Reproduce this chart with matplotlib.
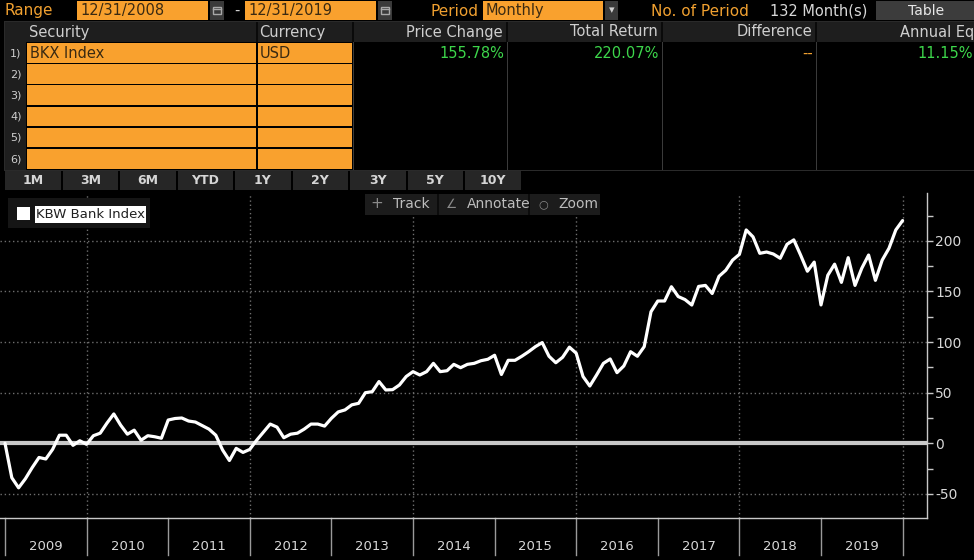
import matplotlib
matplotlib.use('Agg')
import matplotlib.pyplot as plt
from matplotlib.patches import Rectangle
import matplotlib.transforms as mtransforms

# ---------------- data ----------------
years = ['2009', '2010', '2011', '2012', '2013', '2014', '2015', '2016', '2017', '2018', '2019']
months = list(range(133))  # month-end points 12/2008 .. 12/2019
bkx_total_return = [
    0, -34, -44, -35, -24, -14, -15.5, -6, 8, 8, -2, 2.5,
    -1, 7.5, 10, 20, 29, 18, 9, 13, 3, 7.5, 6.5, 5,
    23, 24.5, 25, 22, 21, 17.5, 14, 8, -6.6, -17, -5, -9,
    -6, 3, 11, 19, 16, 5.5, 9, 10, 14, 19, 19, 17,
    24.7, 31, 33, 38, 39.5, 50, 51, 61, 52.7, 53, 57.6, 66,
    70.8, 67.5, 70.8, 79, 70.8, 71.7, 78, 74.7, 78, 79, 81.6, 83,
    87, 68, 82, 82, 86, 90.5, 95.5, 99.5, 86, 79.6, 85, 95,
    89, 66, 56.6, 67.5, 79, 83.3, 69.8, 76.4, 90.5, 86, 95.5, 130,
    140.6, 140.6, 154.7, 145, 142, 136.6, 155, 156, 148, 165, 171, 181,
    186.7, 210.8, 204, 187.7, 189, 187, 182.8, 196.6, 201, 186, 170, 179,
    136.7, 166, 177, 159, 183.4, 156, 173, 186, 161, 181, 192.7, 210.8,
    220.07,
]
y_major = [-50, 0, 50, 100, 150, 200]
y_minor = [-25, 25, 75, 125, 175, 225]
series_name = 'KBW Bank Index'

securities = ['BKX Index']
currencies = ['USD']
price_change = ['155.78%']
total_return = ['220.07%']
difference = ['--']
annual_eq = ['11.15%']
period_buttons = ['1M', '3M', '6M', 'YTD', '1Y', '2Y', '3Y', '5Y', '10Y']

# ---------------- style ----------------
ORANGE = '#F9A12E'
ORANGE_TXT = '#F0A030'
GREEN = '#3DD64B'
GRAY_TXT = '#cfcfcf'
DARK_TXT = '#3a2a12'
plt.rcParams['font.family'] = ['DejaVu Sans']

W, H = 974, 560
fig = plt.figure(figsize=(W / 100, H / 100), dpi=100, facecolor='black')

# ---------------- chart ----------------
ax_top, ax_bot, ax_right = 193, 518, 927
ax = fig.add_axes([0, (H - ax_bot) / H, ax_right / W, (ax_bot - ax_top) / H], zorder=1)
ax.set_facecolor('none')
px_per_month = 6.8
x0_px = 5
ax.set_xlim(-x0_px / px_per_month, (ax_right - x0_px) / px_per_month)
ax.set_ylim(-73.8, 247.3)

for v in y_major:
    if v != 0:
        ax.axhline(v, color='#6e6e6e', lw=1, ls=(0, (1, 2)), zorder=1)
for m in range(12, 133, 24):
    ax.axvline(m, color='#6e6e6e', lw=1, ls=(0, (1, 2)), zorder=1)
ax.axhline(0, color='#c8c8c8', lw=3, zorder=3)
ax.plot(months, bkx_total_return, color='white', lw=2.3, zorder=4,
        solid_joinstyle='round', solid_capstyle='round')

for s in ['left', 'top']:
    ax.spines[s].set_visible(False)
for s in ['right', 'bottom']:
    ax.spines[s].set_color('#c8c8c8')
    ax.spines[s].set_linewidth(1)
ax.set_xticks([])
ax.yaxis.tick_right()
ax.set_yticks(y_major)
ax.set_yticks(y_minor, minor=True)
ax.set_yticklabels([str(v) for v in y_major])
ax.tick_params(axis='y', which='both', direction='out', length=4, width=1,
               color='#c8c8c8', labelcolor='#d8d8d8', labelsize=10, pad=2)

trans = mtransforms.blended_transform_factory(ax.transData, ax.transAxes)
sep_bottom = -(555 - ax_bot) / (ax_bot - ax_top)
lab_y = -(547 - ax_bot) / (ax_bot - ax_top)
for k in range(len(years) + 1):
    ax.plot([12 * k, 12 * k], [0, sep_bottom], transform=trans, color='#9a9a9a',
            lw=1, clip_on=False)
for k, yr in enumerate(years):
    ax.text(12 * k + 6, lab_y, yr, transform=trans, ha='center', va='center',
            color='#d8d8d8', fontsize=9.5)

# ---------------- UI overlay ----------------
ui = fig.add_axes([0, 0, 1, 1], zorder=10)
ui.set_xlim(0, W)
ui.set_ylim(H, 0)
ui.axis('off')
ui.patch.set_alpha(0)

def rect(x, y, w, h, color, **kw):
    ui.add_patch(Rectangle((x, y), w, h, facecolor=color, edgecolor='none', **kw))

def txt(x, y, s, color=GRAY_TXT, size=10.5, ha='left', **kw):
    ui.text(x, y, s, color=color, fontsize=size, ha=ha, va='center', **kw)

def cal_icon(x):
    rect(x, 1, 14, 19, '#3a3a3a')
    ui.add_patch(Rectangle((x + 3, 7), 8, 7, facecolor='none', edgecolor='#a8a8a8', lw=1))
    ui.plot([x + 3, x + 11], [9, 9], color='#a8a8a8', lw=1)

# top bar
txt(5, 11, 'Range', ORANGE_TXT, 11)
rect(77, 1, 131, 19, ORANGE)
txt(80, 11, '12/31/2008', DARK_TXT, 10.5)
cal_icon(210)
txt(234, 10, '-', GRAY_TXT, 10.5)
rect(245, 1, 131, 19, ORANGE)
txt(248, 11, '12/31/2019', DARK_TXT, 10.5)
cal_icon(378)
txt(430, 11, 'Period', ORANGE_TXT, 11)
rect(483, 1, 120, 19, ORANGE)
txt(486, 11, 'Monthly', DARK_TXT, 10.5)
rect(605, 1, 13, 19, '#3a3a3a')
txt(611.5, 10, '▾', '#cfcfcf', 8, ha='center')
txt(651, 11, 'No. of Period', ORANGE_TXT, 11)
txt(770, 11, '132 Month(s)', '#d8d8d8', 10.5)
rect(876, 1, 98, 19, '#3c3c3c')
txt(926, 11, 'Table', '#e8e8e8', 10, ha='center')

# table
rect(4, 21, 970, 150, '#2a2a2a')
rect(5, 22, 969, 148, 'black')
rect(5, 22, 969, 20, '#1e1e1e')
rect(5, 42, 21, 128, '#1e1e1e')
for xs in [256, 352, 506, 661, 815]:
    rect(xs, 22, 1.5, 20, '#0a0a0a')
for xs in [353, 507, 662, 816]:
    rect(xs, 42, 1.2, 128, '#3a3a3a')
txt(29, 32, 'Security', GRAY_TXT, 10.5)
txt(259, 32, 'Currency', GRAY_TXT, 10.5)
txt(503, 32, 'Price Change', GRAY_TXT, 10.5, ha='right')
txt(658, 32, 'Total Return', GRAY_TXT, 10.5, ha='right')
txt(812, 32, 'Difference', GRAY_TXT, 10.5, ha='right')
txt(974, 32, 'Annual Eq', GRAY_TXT, 10.5, ha='right', clip_on=True)

row_top = 43
row_h = 21.2
for r in range(6):
    y = row_top + r * row_h
    rect(27, y, 228.5, 19.5, ORANGE)
    rect(257.5, y, 94, 19.5, ORANGE)
    txt(16, y + 10, f'{r + 1})', GRAY_TXT, 8, ha='center')
for r, (sec, cur, pc, tr, df, ae) in enumerate(zip(securities, currencies, price_change,
                                                   total_return, difference, annual_eq)):
    y = row_top + r * row_h + 10
    txt(30, y, sec, DARK_TXT, 10.5)
    txt(260, y, cur, DARK_TXT, 10.5)
    txt(504, y, pc, GREEN, 10.5, ha='right')
    txt(659, y, tr, GREEN, 10.5, ha='right')
    txt(813, y, df, ORANGE_TXT, 10.5, ha='right')
    txt(973, y, ae, GREEN, 10.5, ha='right')

# period buttons
bx = 5
for b in period_buttons:
    rect(bx, 171, 55.5, 19, '#262626')
    txt(bx + 27.75, 181, b, '#d6d6d6', 9, ha='center', fontweight='bold')
    bx += 57.5

# legend
rect(8, 198, 142, 30, '#151515')
rect(17, 207, 13, 13, 'white')
rect(35, 206, 111, 17, 'white')
txt(36, 215, series_name, '#202020', 9.5)

# track / annotate / zoom
rect(365, 194, 235, 21, '#1c1c1c')
rect(437, 194, 2, 21, '#0c0c0c')
rect(528, 194, 2, 21, '#0c0c0c')
txt(377, 204, '+', '#8a8a8a', 11, ha='center')
txt(393, 204, 'Track', '#bdbdbd', 10)
txt(452, 204, '∠', '#8a8a8a', 9, ha='center')
txt(467, 204, 'Annotate', '#bdbdbd', 10)
txt(543, 204, '○', '#8a8a8a', 8, ha='center')
txt(558, 204, 'Zoom', '#bdbdbd', 10)

fig.savefig('out.png', dpi=100, facecolor='black')
